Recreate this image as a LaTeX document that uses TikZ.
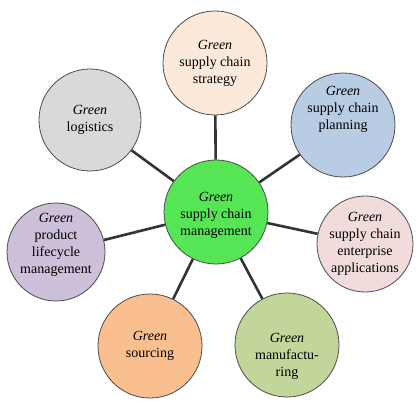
\documentclass[tikz,border=0pt]{standalone}
\usepackage{fontspec}
\setmainfont{Liberation Serif}

\definecolor{vertcentre}{RGB}{85,229,85}
\definecolor{peche}{RGB}{253,233,217}
\definecolor{bleuclair}{RGB}{184,204,228}
\definecolor{roseclair}{RGB}{242,220,219}
\definecolor{olive}{RGB}{194,214,155}
\definecolor{orange}{RGB}{250,191,143}
\definecolor{lavande}{RGB}{204,192,218}
\definecolor{grisclair}{RGB}{217,217,217}

\begin{document}
\begin{tikzpicture}[x=1pt,y=-1pt,
    bulle/.style={circle, draw=black!70, line width=0.8pt, align=center, inner sep=0pt,
        minimum size=104pt, font=\fontsize{14}{17}\selectfont},
    texte/.style={align=center, inner sep=0pt, font=\fontsize{14}{17}\selectfont},
    lien/.style={line width=2.6pt, black!80}]
    % Cadre
    \useasboundingbox (0,0) rectangle (420,403);

    % Bulle centrale
    \node[bulle, fill=vertcentre] (G) at (216,212) {};
    \node[texte] (G-t) at (216,215) {\textit{Green}\\supply chain\\management};

    % Bulles autour
    \node[bulle, fill=peche] (S) at (215,63) {\textit{Green}\\supply chain\\strategy};
    \node[bulle, fill=bleuclair] (P) at (343,125) {};
    \node[texte] (P-t) at (343,109) {\textit{Green}\\supply chain\\planning};
    \node[bulle, fill=roseclair, minimum size=96pt] (E) at (365,244) {\textit{Green}\\supply chain\\enterprise\\applications};
    \node[bulle, fill=olive] (M) at (287,345) {};
    \node[texte] (M-t) at (287,356) {\textit{Green}\\manufactu-\\ring};
    \node[bulle, fill=orange] (A) at (150,346) {\textit{Green}\\sourcing};
    \node[bulle, fill=lavande, minimum size=98pt] (C) at (56,252) {};
    \node[texte] (C-t) at (56,245) {\textit{Green}\\product\\lifecycle\\management};
    \node[bulle, fill=grisclair, minimum size=102pt] (L) at (90,120) {\textit{Green}\\logistics};

    % Liens
    \foreach \b in {S,P,E,M,A,C,L}
        \draw[lien] (G) -- (\b);
\end{tikzpicture}
\end{document}
